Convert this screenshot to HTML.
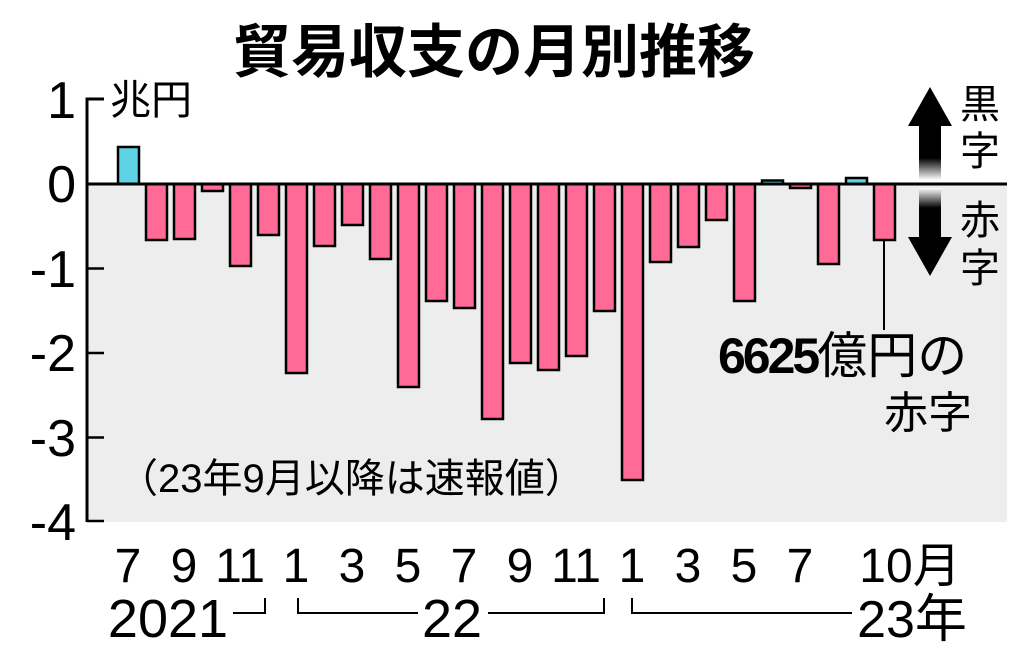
<!DOCTYPE html>
<html><head><meta charset="utf-8"><style>
body{margin:0;background:#fff;}
svg text{font-family:"Liberation Sans","Noto Sans CJK JP",sans-serif;}
</style></head><body>
<svg width="1024" height="654" viewBox="0 0 1024 654" xmlns="http://www.w3.org/2000/svg">
<defs>
<linearGradient id="gu" x1="0" y1="0" x2="0" y2="1"><stop offset="0.6" stop-color="#000"/><stop offset="1" stop-color="#fff"/></linearGradient>
<linearGradient id="gd" x1="0" y1="1" x2="0" y2="0"><stop offset="0.6" stop-color="#000"/><stop offset="1" stop-color="#fff"/></linearGradient>
</defs>
<text x="494" y="72" font-size="58" font-weight="bold" text-anchor="middle">貿易収支の月別推移</text>
<rect x="86" y="184" width="921" height="338" fill="#ededed"/>
<g stroke="#000" stroke-width="2.5">
<rect x="118" y="147" width="21" height="37" fill="#5fd3e6"/>
<g fill="#ff6a97">
<rect x="146" y="184" width="21" height="56"/>
<rect x="174" y="184" width="21" height="55"/>
<rect x="202" y="184" width="21" height="7"/>
<rect x="230" y="184" width="21" height="82"/>
<rect x="258" y="184" width="21" height="51"/>
<rect x="286" y="184" width="21" height="189"/>
<rect x="314" y="184" width="21" height="62"/>
<rect x="342" y="184" width="21" height="41"/>
<rect x="370" y="184" width="21" height="75"/>
<rect x="398" y="184" width="21" height="203"/>
<rect x="426" y="184" width="21" height="117"/>
<rect x="454" y="184" width="21" height="124"/>
<rect x="482" y="184" width="21" height="235"/>
<rect x="510" y="184" width="21" height="179"/>
<rect x="538" y="184" width="21" height="186"/>
<rect x="566" y="184" width="21" height="172"/>
<rect x="594" y="184" width="21" height="127"/>
<rect x="622" y="184" width="21" height="296"/>
<rect x="650" y="184" width="21" height="78"/>
<rect x="678" y="184" width="21" height="63"/>
<rect x="706" y="184" width="21" height="36"/>
<rect x="734" y="184" width="21" height="117"/>
<rect x="790" y="184" width="21" height="4"/>
<rect x="818" y="184" width="21" height="80"/>
<rect x="874" y="184" width="21" height="56"/>
</g>
<rect x="762" y="180.5" width="21" height="3.5" fill="#5fd3e6"/>
<rect x="846" y="178" width="21" height="6" fill="#5fd3e6"/>
</g>
<line x1="86" y1="184" x2="1007" y2="184" stroke="#000" stroke-width="3"/>
<polyline points="104,99 87,99 87,522" fill="none" stroke="#000" stroke-width="3"/>
<g stroke="#000" stroke-width="2.5">
<line x1="87" y1="268.5" x2="104" y2="268.5"/><line x1="87" y1="353" x2="104" y2="353"/><line x1="87" y1="437.5" x2="104" y2="437.5"/><line x1="87" y1="521" x2="104" y2="521"/>
</g>
<g font-size="52" text-anchor="end">
<text x="76" y="118">1</text><text x="76" y="202">0</text><text x="76" y="287">-1</text><text x="76" y="371">-2</text><text x="76" y="456">-3</text><text x="76" y="540">-4</text>
</g>
<text x="110" y="114" font-size="41">兆円</text>
<line x1="884" y1="240" x2="884" y2="330" stroke="#000" stroke-width="2"/>
<text x="718" y="373" font-size="50" font-weight="bold" letter-spacing="-3">6625<tspan font-weight="normal" letter-spacing="0">億円の</tspan></text>
<text x="884" y="428" font-size="44">赤字</text>
<text x="118" y="492" font-size="40">（23年9月以降は速報値）</text>
<rect x="919" y="125" width="22" height="55" fill="url(#gu)"/>
<polygon points="908,126 930,87 952,126" fill="#000"/>
<rect x="919" y="188" width="22" height="50" fill="url(#gd)"/>
<polygon points="908,237 930,276 952,237" fill="#000"/>
<g font-size="40"><text x="960" y="118">黒</text><text x="960" y="165">字</text><text x="960" y="234">赤</text><text x="960" y="282">字</text></g>
<g font-size="48" text-anchor="middle">
<text x="128" y="582">7</text><text x="184" y="582">9</text><text x="240" y="582">11</text><text x="296" y="582">1</text><text x="352" y="582">3</text><text x="408" y="582">5</text><text x="464" y="582">7</text><text x="520" y="582">9</text><text x="576" y="582">11</text><text x="632" y="582">1</text><text x="688" y="582">3</text><text x="744" y="582">5</text><text x="800" y="582">7</text><text x="910" y="582">10月</text>
<text x="168" y="637" font-size="54">2021</text><text x="452" y="637" font-size="54">22</text><text x="912" y="637" font-size="52">23年</text>
</g>
<g stroke="#000" stroke-width="2" fill="none">
<polyline points="233,613 265,613 265,598"/>
<polyline points="298,598 298,613 418,613"/><polyline points="488,613 604,613 604,598"/>
<polyline points="632,598 632,613 852,613"/>
</g>
</svg>
</body></html>
